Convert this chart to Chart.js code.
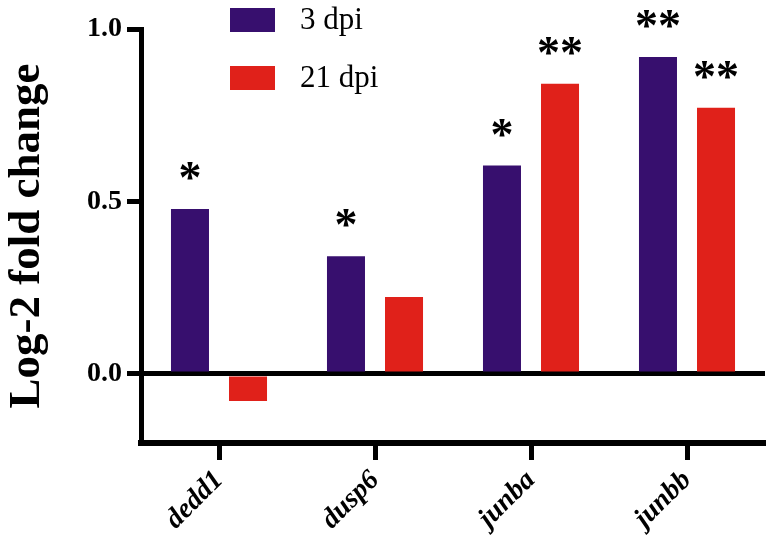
<!DOCTYPE html>
<html>
<head>
<meta charset="utf-8">
<script src="https://cdn.jsdelivr.net/npm/chart.js@4.4.1/dist/chart.umd.min.js"></script>
<style>
  html, body { margin: 0; padding: 0; background: #fff; }
  #wrap { width: 766px; height: 552px; position: relative; }
</style>
</head>
<body>
<div id="wrap"><canvas id="c" width="766" height="552"></canvas></div>
<script>
// ---- data ----
const categories = ['dedd1', 'dusp6', 'junba', 'junbb'];
const seriesNames = ['3 dpi', '21 dpi'];
const values3dpi = [0.478, 0.341, 0.604, 0.919];
const values21dpi = [-0.078, 0.223, 0.841, 0.772];
const sig3dpi = ['*', '*', '*', '**'];
const sig21dpi = ['', '', '**', '**'];
const yTicks = [0.0, 0.5, 1.0];
const yMin = -0.2, yMax = 1.0;

const colors = ['#370f6e', '#e0211a'];
const SERIF = '"Liberation Serif"';
Chart.defaults.font.family = SERIF;

const sigPlugin = {
  id: 'sig',
  afterDatasetsDraw(chart) {
    const ctx = chart.ctx;
    const sigs = [sig3dpi, sig21dpi];
    ctx.save();
    ctx.fillStyle = '#000';
    ctx.font = 'bold 46px ' + SERIF;
    ctx.textAlign = 'center';
    ctx.textBaseline = 'alphabetic';
    chart.data.datasets.forEach((ds, i) => {
      const meta = chart.getDatasetMeta(i);
      meta.data.forEach((bar, j) => {
        const s = sigs[i][j];
        if (!s) return;
        const top = Math.min(bar.y, bar.base);
        ctx.fillText(s, bar.x, top - 16);
      });
    });
    ctx.restore();
  }
};

const legendPlugin = {
  id: 'customLegend',
  afterDraw(chart) {
    const ctx = chart.ctx;
    ctx.save();
    chart.data.datasets.forEach((ds, i) => {
      const bx = 230, by = 8 + i * 58, bw = 45, bh = 24;
      ctx.fillStyle = ds.backgroundColor;
      ctx.fillRect(bx, by, bw, bh);
      ctx.fillStyle = '#000';
      ctx.font = 'normal 31px ' + SERIF;
      ctx.textAlign = 'left';
      ctx.textBaseline = 'middle';
      ctx.fillText(ds.label, 300, by + bh / 2 + 1);
    });
    ctx.restore();
  }
};

new Chart(document.getElementById('c'), {
  type: 'bar',
  data: {
    labels: categories,
    datasets: [
      { label: seriesNames[0], data: values3dpi, backgroundColor: colors[0] },
      { label: seriesNames[1], data: values21dpi, backgroundColor: colors[1] }
    ]
  },
  options: {
    responsive: false,
    animation: false,
    devicePixelRatio: 1,
    categoryPercentage: 0.744,
    barPercentage: 0.655,
    layout: { padding: { top: 29, right: 1, left: 0, bottom: 0 } },
    plugins: {
      legend: { display: false },
      tooltip: { enabled: false }
    },
    scales: {
      x: {
        offset: true,
        grid: {
          offset: false,
          drawOnChartArea: false,
          drawTicks: true,
          tickLength: 17,
          tickWidth: 5,
          tickColor: '#000'
        },
        border: { display: true, color: '#000', width: 6 },
        ticks: {
          color: '#000',
          font: { family: SERIF, size: 28, weight: 'bold', style: 'italic' },
          minRotation: 45,
          maxRotation: 45,
          padding: 4
        },
        afterFit(scale) { scale.height = 109; }
      },
      y: {
        min: yMin,
        max: yMax,
        afterBuildTicks(scale) { scale.ticks = yTicks.map(v => ({ value: v })); },
        grid: {
          drawOnChartArea: true,
          color: (c) => (c.tick && c.tick.value === 0 ? '#000' : 'rgba(0,0,0,0)'),
          lineWidth: 5,
          tickLength: 14,
          tickWidth: 5,
          tickColor: '#000'
        },
        border: { display: true, color: '#000', width: 5 },
        ticks: {
          color: '#000',
          font: { family: SERIF, size: 28, weight: 'bold' },
          padding: 5,
          callback: (v) => Number(v).toFixed(1)
        },
        title: {
          display: true,
          text: 'Log-2 fold change',
          color: '#000',
          font: { family: SERIF, size: 45, weight: 'bold' },
          padding: { top: 0, bottom: 0 }
        },
        afterFit(scale) { scale.width = 141; }
      }
    }
  },
  plugins: [sigPlugin, legendPlugin]
});
</script>
</body>
</html>
